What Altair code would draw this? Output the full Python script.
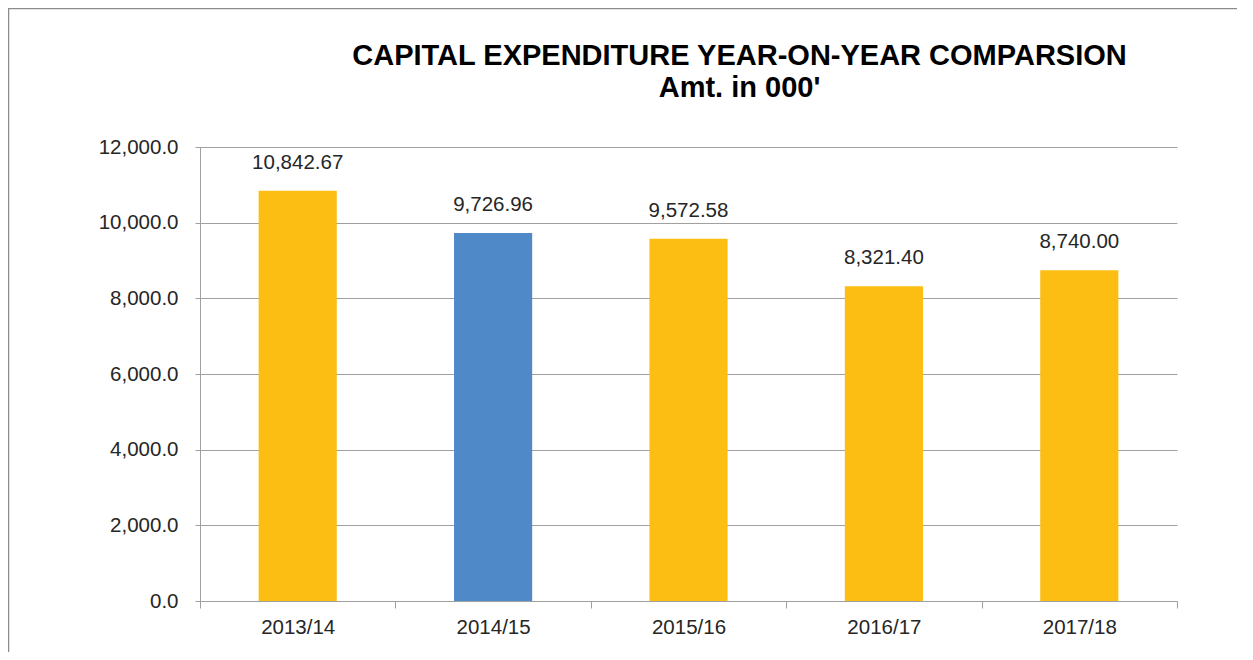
import altair as alt
import pandas as pd

years = ["2013/14", "2014/15", "2015/16", "2016/17", "2017/18"]
values = [10842.67, 9726.96, 9572.58, 8321.40, 8740.00]
bar_colors = ["#FDBE13", "#4F89C7", "#FDBE13", "#FDBE13", "#FDBE13"]
y_ticks = [0, 2000, 4000, 6000, 8000, 10000, 12000]
title_lines = ["CAPITAL EXPENDITURE YEAR-ON-YEAR COMPARSION", "Amt. in 000'"]

df = pd.DataFrame({"year": years, "value": values})
FONT = "Arial"
GRID = "#A0A0A0"
TXT = "#262626"

x_enc = alt.X(
    "year:N", sort=years, title=None,
    scale=alt.Scale(paddingInner=0, paddingOuter=0),
    axis=alt.Axis(labelAngle=0, tickBand="extent", tickSize=7, labelPadding=9,
                  labelFontSize=20.5, labelColor=TXT, labelFont=FONT,
                  domainColor=GRID, tickColor=GRID, grid=False),
)
y_enc = alt.Y(
    "value:Q", title=None,
    scale=alt.Scale(domain=[0, 12000], nice=False),
    axis=alt.Axis(values=y_ticks, format=",.1f", tickSize=5, labelPadding=17,
                  labelFontSize=20.5, labelColor=TXT, labelFont=FONT,
                  domainColor=GRID, tickColor=GRID, grid=True, gridColor=GRID),
)

bars = alt.Chart(df).mark_bar(width=alt.RelativeBandSize(0.4)).encode(
    x=x_enc, y=y_enc,
    color=alt.Color("year:N", scale=alt.Scale(domain=years, range=bar_colors), legend=None),
)
labels = alt.Chart(df).mark_text(baseline="alphabetic", dy=-22, fontSize=20.5, font=FONT, color=TXT).encode(
    x=alt.X("year:N", sort=years), y=alt.Y("value:Q"),
    text=alt.Text("value:Q", format=",.2f"),
)

one = pd.DataFrame({"k": [0]})
left_border = alt.Chart(one).mark_rule(color="#8C8C8C", strokeWidth=1.5).encode(
    x=alt.value(-191.5), y=alt.value(-139), y2=alt.value(505))
top_border = alt.Chart(one).mark_rule(color="#8C8C8C", strokeWidth=1.5).encode(
    x=alt.value(-192), x2=alt.value(1037), y=alt.value(-138.5))

chart = alt.layer(bars, labels, left_border, top_border).properties(
    width=977, height=454,
    autosize=alt.AutoSizeParams(type="none"),
    padding={"left": 192, "top": 139, "right": 60, "bottom": 51},
    title=alt.TitleParams(title_lines, fontSize=29, font=FONT, fontWeight="bold", color="black",
                          anchor="middle", dx=51, lineHeight=32, offset=-96),
).configure_view(stroke=None)

chart.save("out.html", embed_options={"renderer": "svg", "actions": False})
